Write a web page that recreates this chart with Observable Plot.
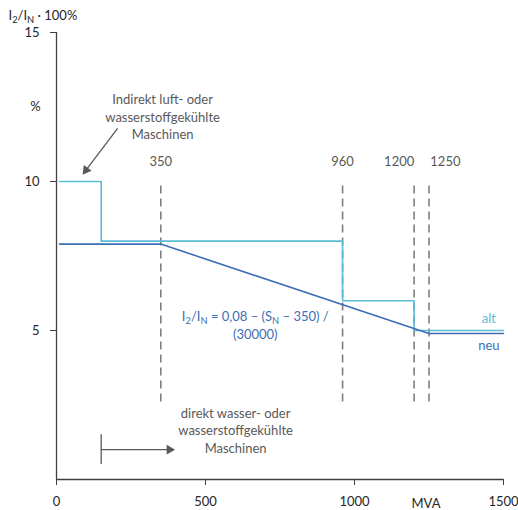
<!DOCTYPE html>
<html>
<head>
<meta charset="utf-8">
<script src="https://cdn.jsdelivr.net/npm/d3@7"></script>
<script src="https://cdn.jsdelivr.net/npm/@observablehq/plot@0.6"></script>
<style>
  html, body { margin: 0; padding: 0; background: #fff; }
  #chart { width: 518px; height: 510px; }
</style>
</head>
<body>
<div id="chart"></div>
<script>
// --- data ---
const altX = [10, 150, 960, 1200, 1500];
const altY = [10, 8, 6, 5, 5];
const neuX = [10, 350, 1250, 1500];
const neuY = [7.9, 7.9, 4.9, 4.9];
const limitX = [350, 960, 1200, 1250];
const limitLabels = ["350", "960", "1200", "1250"];
const limitLabelX = [350, 960, 1150, 1305];
const xTicks = [0, 500, 1000, 1500];
const yTicks = [5, 10, 15];
const yTitle = "I_2/I_N · 100%";
const yUnit = "%";
const xUnit = "MVA";
const formula = "I_2/I_N = 0,08 – (S_N – 350) /\n(30000)";
const noteTop = "Indirekt luft- oder\nwasserstoffgekühlte\nMaschinen";
const noteBottom = "direkt wasser- oder\nwasserstoffgekühlte\nMaschinen";
const seriesNames = ["alt", "neu"];
// annotation arrows (data units): line start, head centre, head rotation
const arrows = [
  {x1: 205, y1: 11.78, x2: 99, y2: 10.38, rot: 217},
  {x1: 150, y1: 1.0, x2: 379, y2: 1.0, rot: 90}
];

const LIGHT = "#5bbcd6", DARK = "#3d6eb5", GRAY = "#595959", DASH = "#7f7f7f", AXIS = "#404040";

const altData = altX.map((x, i) => ({x, y: altY[i]}));
const neuData = neuX.map((x, i) => ({x, y: neuY[i]}));
const limits = limitX.map((x, i) => ({x, lx: limitLabelX[i], label: limitLabels[i]}));

const chart = Plot.plot({
  width: 518,
  height: 510,
  marginLeft: 56,
  marginRight: 15,
  marginTop: 32,
  marginBottom: 31,
  style: {fontFamily: "Lato, 'Open Sans', sans-serif", fontSize: "13px", color: "#262626", background: "#fff"},
  x: {domain: [0, 1500]},
  y: {domain: [0, 15]},
  marks: [
    Plot.axisX({ticks: xTicks, tickFormat: d => String(d), tickSize: 6, tickPadding: 11, label: null, stroke: AXIS, fontSize: 13}),
    Plot.axisY({ticks: yTicks, tickFormat: d => String(d), tickSize: 6, tickPadding: 11, label: null, stroke: AXIS, fontSize: 13}),
    Plot.ruleX([0], {y1: 0, y2: 15, stroke: AXIS, strokeWidth: 1.3}),
    Plot.ruleY([0], {x1: 0, x2: 1500, stroke: AXIS, strokeWidth: 1.3}),
    Plot.text([xUnit], {x: 1240, y: 0, text: d => d, dy: 24, fontSize: 13, fill: "#262626"}),
    Plot.text([yUnit], {x: 0, y: 12.5, text: d => d, dx: -21, fontSize: 13, fill: "#262626"}),
    Plot.text([yTitle], {frameAnchor: "top-left", text: d => d, dx: -48, dy: -17, textAnchor: "start", lineAnchor: "middle", fontSize: 13, fill: "#262626"}),
    Plot.ruleX(limits, {x: "x", y1: 2.6, y2: 10, stroke: DASH, strokeWidth: 1.6, strokeDasharray: "8,5"}),
    Plot.text(limits, {x: "lx", y: 10.67, text: "label", fill: GRAY, fontSize: 13}),
    Plot.line(altData, {x: "x", y: "y", curve: "step-after", stroke: LIGHT, strokeWidth: 1.6}),
    Plot.line(neuData, {x: "x", y: "y", stroke: DARK, strokeWidth: 1.6}),
    Plot.text([seriesNames[0]], {x: 1451, y: 5.4, text: d => d, fill: LIGHT, fontSize: 13}),
    Plot.text([seriesNames[1]], {x: 1451, y: 4.47, text: d => d, fill: DARK, fontSize: 13}),
    Plot.text([formula], {x: 667, y: 5.2, text: d => d, fill: DARK, fontSize: 13, lineHeight: 1.4}),
    Plot.text([noteTop], {x: 356, y: 12.2, text: d => d, fill: GRAY, fontSize: 13, lineHeight: 1.35}),
    Plot.text([noteBottom], {x: 601, y: 1.68, text: d => d, fill: GRAY, fontSize: 13, lineHeight: 1.35}),
    Plot.link(arrows, {x1: "x1", y1: "y1", x2: "x2", y2: "y2", stroke: GRAY, strokeWidth: 1.3}),
    Plot.dot(arrows, {x: "x2", y: "y2", symbol: "triangle", r: 3.6, fill: GRAY, stroke: "none", rotate: "rot"}),
    Plot.ruleX([150], {y1: 0.5, y2: 1.5, stroke: GRAY, strokeWidth: 1.3})
  ]
});

// subscripts: turn "_X" into a lowered small tspan
function applySubscripts(root) {
  const nodes = Array.from(root.querySelectorAll("text, tspan")).filter(n => n.children.length === 0 && n.textContent.includes("_"));
  for (const n of nodes) {
    const s = n.textContent;
    n.textContent = "";
    const parts = s.split(/(_\S)/);
    for (const p of parts) {
      if (!p) continue;
      if (p.startsWith("_") && p.length === 2) {
        const t = document.createElementNS("http://www.w3.org/2000/svg", "tspan");
        t.setAttribute("font-size", "0.72em");
        t.setAttribute("baseline-shift", "-0.3em");
        t.textContent = p[1];
        n.appendChild(t);
      } else {
        n.appendChild(document.createTextNode(p));
      }
    }
  }
}
applySubscripts(chart);
document.getElementById("chart").appendChild(chart);
</script>
</body>
</html>
